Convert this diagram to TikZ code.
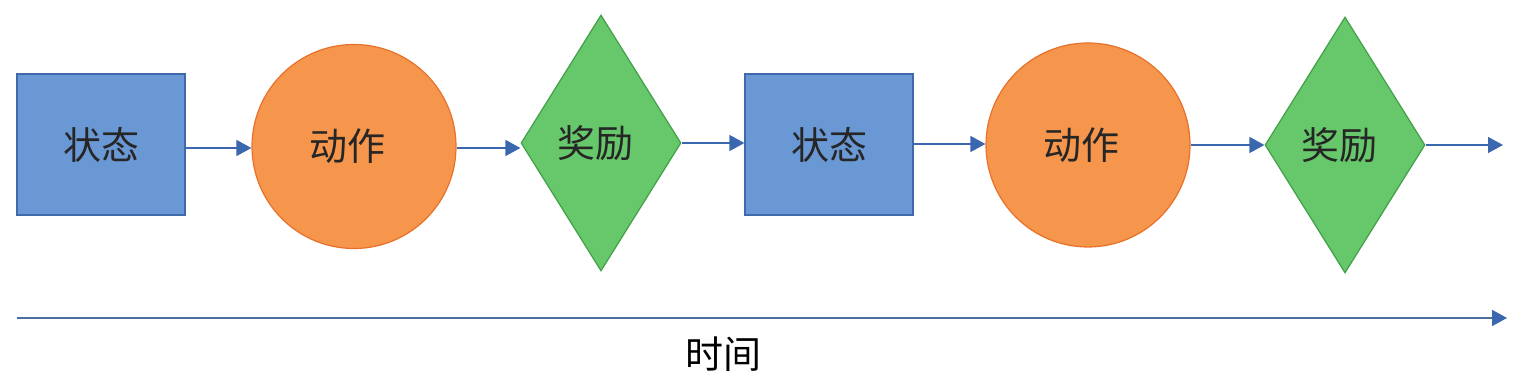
\documentclass[tikz,border=0pt]{standalone}
\usepackage{fontspec}
\setmainfont{Noto Sans CJK SC}
\usetikzlibrary{shapes.geometric,arrows.meta}
\definecolor{rectfill}{HTML}{6A98D4}
\definecolor{rectline}{HTML}{3F69AA}
\definecolor{circfill}{HTML}{F6964C}
\definecolor{circline}{HTML}{E8702A}
\definecolor{diafill}{HTML}{66C86A}
\definecolor{dialine}{HTML}{41A047}
\definecolor{arr}{HTML}{3A67AE}
\definecolor{timeline}{HTML}{4A6E9E}
\tikzset{
  lbl/.style={font=\fontsize{19pt}{22pt}\selectfont, text=black!85},
  shiftleft/.style={execute at begin node={\hspace*{-#1}}},
  statebox/.style={lbl, rectangle, draw=rectline, fill=rectfill, line width=0.6pt, minimum width=84pt, minimum height=70.5pt, inner sep=0pt},
  actcirc/.style={lbl, circle, draw=circline, fill=circfill, line width=0.6pt, minimum size=102pt, inner sep=0pt, shiftleft=7pt},
  rewdia/.style={lbl, diamond, draw=dialine, fill=diafill, line width=0.6pt, minimum width=80pt, minimum height=128pt, inner sep=0pt, shiftleft=6pt},
  flow/.style={draw=arr, line width=0.75pt, -{Triangle[length=7.5pt,width=8pt]}},
  timearr/.style={draw=timeline, line width=0.9pt, -{Triangle[length=7.5pt,width=8pt,fill=arr,color=arr]}}
}
\begin{document}
\begin{tikzpicture}[x=0.5pt,y=-0.5pt]
\useasboundingbox (0,0) rectangle (1521,384);
\node[statebox] (s1) at (101,144.5) {状态};
\node[actcirc] (a1) at (354,146.5) {动作};
\node[rewdia] (r1) at (601,143) {奖励};
\node[statebox] (s2) at (829,144.5) {状态};
\node[actcirc] (a2) at (1088,145) {动作};
\node[rewdia] (r2) at (1345,145) {奖励};
\coordinate (end) at (1503,145);
\coordinate (t0) at (17,318);
\coordinate (t1) at (1507,318);
\draw[flow] (s1.east |- 0,148) -- (a1.west |- 0,148);
\draw[flow] (a1.east |- 0,148) -- (r1.west |- 0,148);
\draw[flow] (r1.east) -- (s2.west |- r1.east);
\draw[flow] (s2.east |- 0,144) -- (a2.west |- 0,144);
\draw[flow] (a2.east) -- (r2.west);
\draw[flow] (r2.east) -- (end);
\draw[timearr] (t0) -- (t1);
\node[lbl, text=black] (time) at (723,354) {时间};
\end{tikzpicture}
\end{document}
